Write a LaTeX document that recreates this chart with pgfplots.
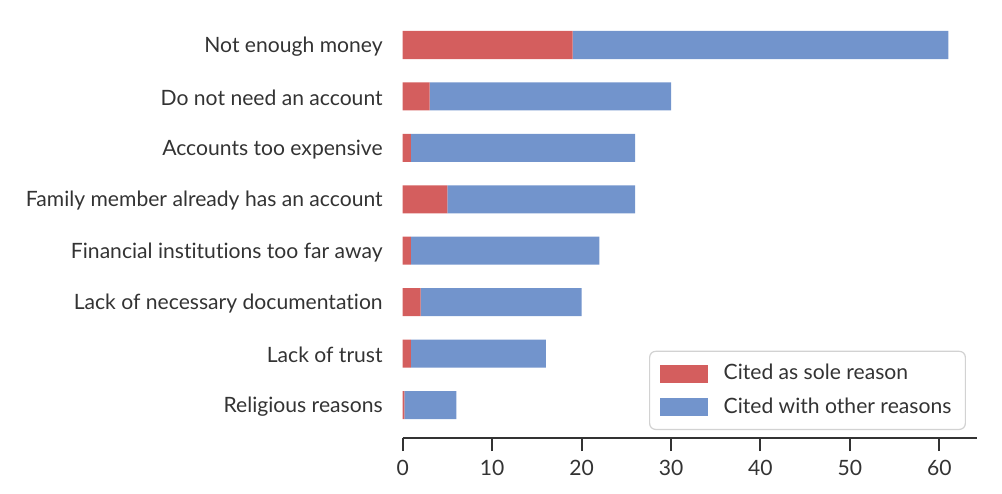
\documentclass[border=0pt]{standalone}
\usepackage{fontspec}
\setmainfont{Lato}[Ligatures={NoCommon}]
\usepackage{pgfplots}
\pgfplotsset{compat=1.18}
\definecolor{cred}{HTML}{D45E5E}
\definecolor{cblue}{HTML}{7294CC}
\definecolor{ctext}{HTML}{333333}
\begin{document}
\begin{tikzpicture}
\begin{axis}[
  scale only axis,
  width=287pt, height=211.9pt,
  xmin=0, xmax=64.2,
  ymin=-0.6, ymax=7.642,
  y dir=reverse,
  xbar stacked,
  bar width=14pt,
  axis x line*=bottom,
  axis y line*=left,
  y axis line style={draw=none},
  x axis line style={draw=ctext, line width=1pt},
  xtick={0,10,20,30,40,50,60},
  xtick align=outside,
  major tick length=6.5pt,
  xtick style={draw=ctext, line width=1pt},
  ytick={0,1,2,3,4,5,6,7},
  ytick style={draw=none},
  yticklabels={Not enough money,Do not need an account,Accounts too expensive,Family member already has an account,Financial institutions too far away,Lack of necessary documentation,Lack of trust,Religious reasons},
  yticklabel style={xshift=-6.5pt, yshift=-0.8pt},
  xticklabel style={yshift=-1pt},
  /pgf/number format/assume math mode=true,
  tick label style={font=\fontsize{10.55}{12}\selectfont, text=ctext},
  font=\fontsize{10.55}{12}\selectfont,
  clip=false,
  legend cell align=left,
  legend style={at={(0.981,0.206)}, anchor=north east, draw=gray!35, line width=0.6pt,
    rounded corners=3pt, font=\fontsize{10.55}{12}\selectfont, text=ctext,
    inner xsep=5pt, inner ysep=4.5pt, row sep=3.5pt,
    /tikz/every odd column/.append style={column sep=6pt}},
  legend image code/.code={\fill[#1, sharp corners] (0pt,-4.5pt) rectangle (24pt,4.5pt);},
]
\addplot[fill=cred, draw=none] coordinates {
(19,0) (3,1) (0.9,2) (5,3) (0.9,4) (2,5) (0.9,6) (0.2,7)};
\addlegendentry{Cited as sole reason}
\addplot[fill=cblue, draw=none] coordinates {
(42,0) (27,1) (25.1,2) (21,3) (21.1,4) (18,5) (15.1,6) (5.8,7)};
\addlegendentry{Cited with other reasons}
\path (axis cs:-45.03,-0.875) rectangle (axis cs:67.01,8.711);
\end{axis}
\end{tikzpicture}
\end{document}
